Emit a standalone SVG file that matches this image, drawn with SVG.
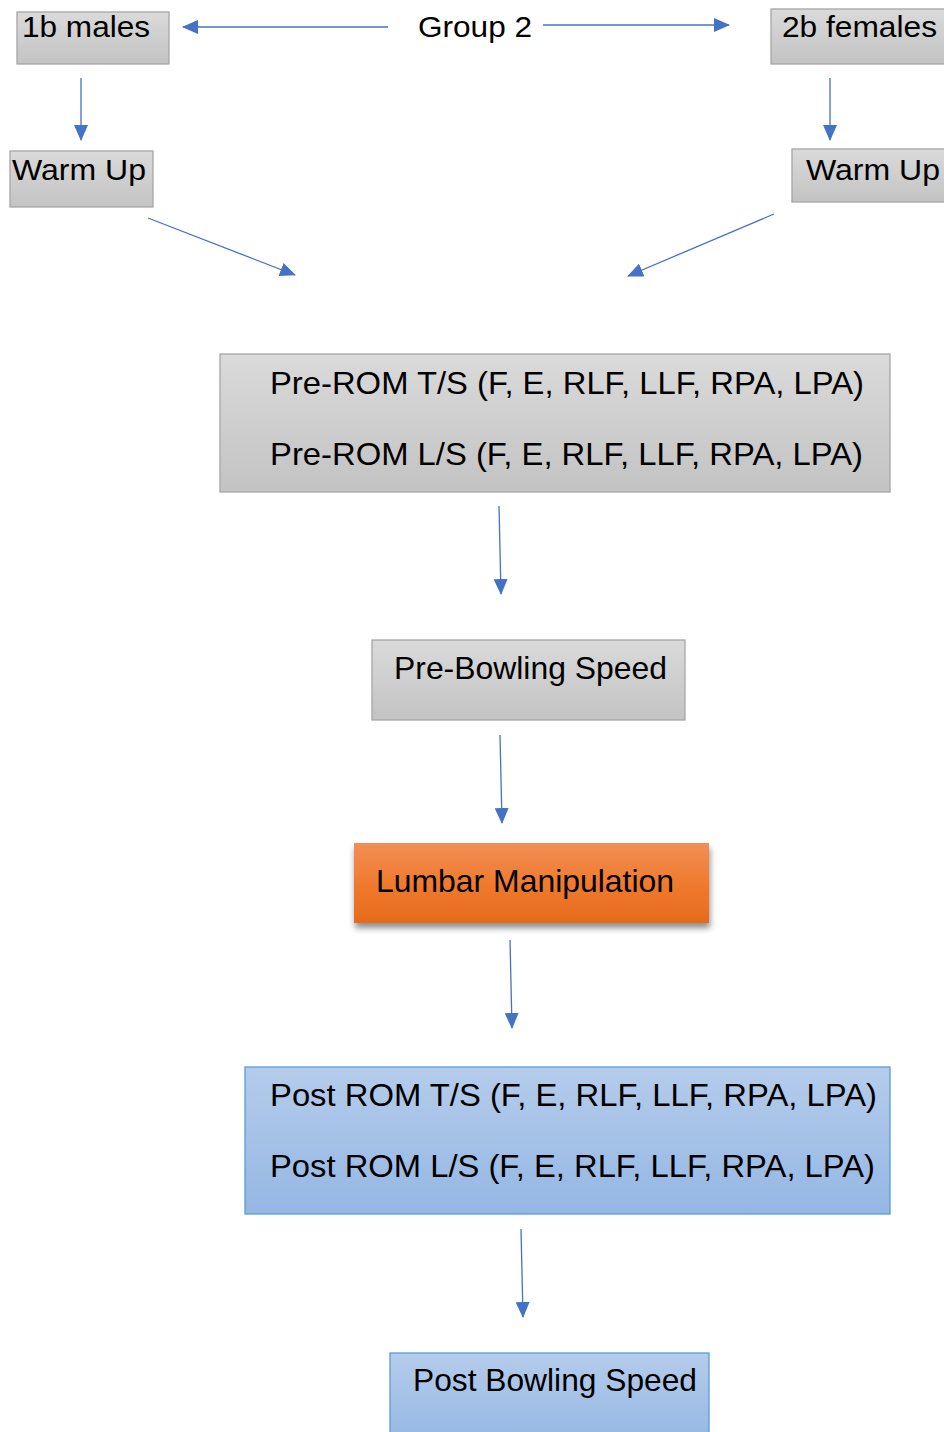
<svg xmlns="http://www.w3.org/2000/svg" width="944" height="1432" viewBox="0 0 944 1432">
<defs>
<linearGradient id="gGray" x1="0" y1="0" x2="0" y2="1"><stop offset="0" stop-color="#dadada"/><stop offset="1" stop-color="#c3c3c3"/></linearGradient>
<linearGradient id="gBlue" x1="0" y1="0" x2="0" y2="1"><stop offset="0" stop-color="#b5cceb"/><stop offset="1" stop-color="#94b7e3"/></linearGradient>
<linearGradient id="gOrange" x1="0" y1="0" x2="0" y2="1"><stop offset="0" stop-color="#f28e55"/><stop offset="0.5" stop-color="#f07a2e"/><stop offset="1" stop-color="#e56b1a"/></linearGradient>
<filter id="shadow" x="-10%" y="-20%" width="125%" height="160%"><feGaussianBlur in="SourceAlpha" stdDeviation="3"/><feOffset dx="1" dy="5"/><feComponentTransfer><feFuncA type="linear" slope="0.45"/></feComponentTransfer><feMerge><feMergeNode/><feMergeNode in="SourceGraphic"/></feMerge></filter>
<marker id="ah" markerWidth="16" markerHeight="14" refX="15" refY="7" orient="auto" markerUnits="userSpaceOnUse" viewBox="0 0 16 14"><path d="M0,0 L16,7 L0,14 z" fill="#4472c4"/></marker>
</defs>
<style>
text{font-family:"Liberation Sans",Arial,sans-serif;fill:#000;}
.gray{fill:url(#gGray);stroke:#a6a6a6;stroke-width:1.3;}
.blue{fill:url(#gBlue);stroke:#5b9bd5;stroke-width:1.3;}
.orange{fill:url(#gOrange);}
.c{stroke:#4472c4;stroke-width:1.3;fill:none;marker-end:url(#ah);}
.t{font-size:31.5px;}
.s{font-size:30px;}
</style>
<rect width="944" height="1432" fill="#fff"/>
<g id="connectors">
<line class="c" x1="388" y1="27" x2="183" y2="27"/>
<line class="c" x1="543" y1="25" x2="729" y2="25"/>
<line class="c" x1="81" y1="78" x2="81" y2="140"/>
<line class="c" x1="830" y1="78" x2="830" y2="140"/>
<line class="c" x1="148" y1="218" x2="295" y2="275"/>
<line class="c" x1="774" y1="214" x2="628" y2="276"/>
<line class="c" x1="499" y1="506" x2="501" y2="594"/>
<line class="c" x1="500" y1="735" x2="502" y2="823"/>
<line class="c" x1="510" y1="940" x2="512" y2="1028"/>
<line class="c" x1="521" y1="1229" x2="523" y2="1317"/>
</g>
<g id="group2"><text class="s" x="418" y="37" textLength="114" lengthAdjust="spacingAndGlyphs">Group 2</text></g>
<g id="males"><rect class="gray" x="17" y="12" width="152" height="52"/><text class="s" x="22" y="37" textLength="128" lengthAdjust="spacingAndGlyphs">1b males</text></g>
<g id="females"><rect class="gray" x="771" y="9" width="180" height="55"/><text class="s" x="782" y="37" textLength="155" lengthAdjust="spacingAndGlyphs">2b females</text></g>
<g id="warmup1"><rect class="gray" x="10" y="151" width="143" height="56"/><text class="s" x="12" y="180" textLength="134" lengthAdjust="spacingAndGlyphs">Warm Up</text></g>
<g id="warmup2"><rect class="gray" x="792" y="149" width="160" height="53"/><text class="s" x="806" y="180" textLength="134" lengthAdjust="spacingAndGlyphs">Warm Up</text></g>
<g id="prerom"><rect class="gray" x="220" y="354" width="670" height="138"/>
<text class="t" x="270" y="394" textLength="594" lengthAdjust="spacingAndGlyphs">Pre-ROM T/S (F, E, RLF, LLF, RPA, LPA)</text>
<text class="t" x="270" y="465" textLength="593" lengthAdjust="spacingAndGlyphs">Pre-ROM L/S (F, E, RLF, LLF, RPA, LPA)</text></g>
<g id="prebowling"><rect class="gray" x="372" y="640" width="313" height="80"/><text class="t" x="394" y="679" textLength="273" lengthAdjust="spacingAndGlyphs">Pre-Bowling Speed</text></g>
<g id="lumbar"><rect class="orange" x="354" y="843" width="355" height="80" filter="url(#shadow)"/><text class="t" x="376" y="892" textLength="298" lengthAdjust="spacingAndGlyphs">Lumbar Manipulation</text></g>
<g id="postrom"><rect class="blue" x="245" y="1067" width="645" height="147"/>
<text class="t" x="270" y="1106" textLength="607" lengthAdjust="spacingAndGlyphs">Post ROM T/S (F, E, RLF, LLF, RPA, LPA)</text>
<text class="t" x="270" y="1177" textLength="605" lengthAdjust="spacingAndGlyphs">Post ROM L/S (F, E, RLF, LLF, RPA, LPA)</text></g>
<g id="postbowling"><rect class="blue" x="390" y="1353" width="319" height="90"/><text class="t" x="413" y="1391" textLength="284" lengthAdjust="spacingAndGlyphs">Post Bowling Speed</text></g>
</svg>
